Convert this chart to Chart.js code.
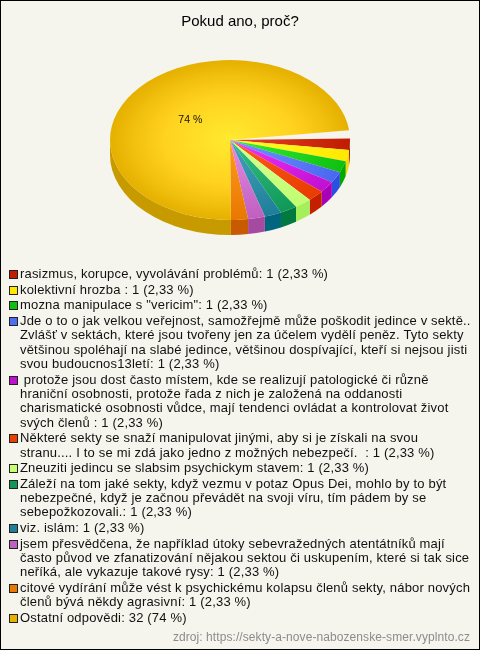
<!DOCTYPE html>
<html lang="cs">
<head>
<meta charset="utf-8">
<title>Pokud ano, proč?</title>
<script src="https://cdn.jsdelivr.net/npm/chart.js@4/dist/chart.umd.min.js"></script>
<style>
  html, body { margin: 0; padding: 0; background: #f5f5ee; }
  #frame {
    position: relative; width: 480px; height: 650px; box-sizing: border-box;
    border: 1px solid #000; background: #f5f5ee; overflow: hidden;
    font-family: "Liberation Sans", Arial, sans-serif; color: #111;
  }
  #pie { position: absolute; left: -1px; top: -1px; }
  #legend { position: absolute; left: 8px; top: 266px; margin: 0; padding: 0; list-style: none; font-size: 13px; letter-spacing: 0.18px; line-height: 14.3px; }
  #legend li { position: relative; padding-left: 11px; margin-bottom: 1.4px; white-space: pre; }
  #legend .box { position: absolute; left: 0; top: 3px; width: 7px; height: 7px; border: 1px solid #222; }
  #source { position: absolute; right: 9px; top: 629px; font-size: 12px; letter-spacing: 0.08px; color: #8c8c8c; }
</style>
</head>
<body>
<div id="frame">
  <canvas id="pie" width="480" height="300"></canvas>
  <ul id="legend"></ul>
  <div id="source">zdroj: https://sekty-a-nove-nabozenske-smer.vyplnto.cz</div>
</div>
<script>
const chartTitle = "Pokud ano, proč?";

const answers = [
  "rasizmus, korupce, vyvolávání problémů",
  "kolektivní hrozba ",
  "mozna manipulace s \"vericim\"",
  "Jde o to o jak velkou veřejnost, samožřejmě může poškodit jedince v sektě..\nZvlášť v sektách, které jsou tvořeny jen za účelem vydělí peněz. Tyto sekty\nvětšinou spoléhají na slabé jedince, většinou dospívající, kteří si nejsou jisti\nsvou budoucnos13letí",
  " protože jsou dost často místem, kde se realizují patologické či různě\nhraniční osobnosti, protože řada z nich je založená na oddanosti\ncharismatické osobnosti vůdce, mají tendenci ovládat a kontrolovat život\nsvých členů ",
  "Některé sekty se snaží manipulovat jinými, aby si je získali na svou\nstranu.... I to se mi zdá jako jedno z možných nebezpečí.  ",
  "Zneuziti jedincu se slabsim psychickym stavem",
  "Záleží na tom jaké sekty, když vezmu v potaz Opus Dei, mohlo by to být\nnebezpečné, když je začnou převádět na svoji víru, tím pádem by se\nsebepožkozovali.",
  "viz. islám",
  "jsem přesvědčena, že například útoky sebevražedných atentátníků mají\nčasto původ ve zfanatizování nějakou sektou či uskupením, které si tak sice\nneříká, ale vykazuje takové rysy",
  "citové vydírání může vést k psychickému kolapsu členů sekty, nábor nových\nčlenů bývá někdy agrasivní",
  "Ostatní odpovědi"
];
const counts = [1, 1, 1, 1, 1, 1, 1, 1, 1, 1, 1, 32];
const percents = ["2,33 %", "2,33 %", "2,33 %", "2,33 %", "2,33 %", "2,33 %", "2,33 %", "2,33 %", "2,33 %", "2,33 %", "2,33 %", "74 %"];
const pieLabels = ["", "", "", "", "", "", "", "", "", "", "", "74 %"];

// top face: inner colour, outer colour
const innerColors = ["#e84428", "#ffff28", "#34f034", "#7094ff", "#f034ff", "#ff5c1c", "#d8ff94", "#34c084", "#44a4bc", "#e48ce4", "#ff9c20", "#ffea30"];
const outerColors = ["#c01c00", "#ffe800", "#10c010", "#4a68f0", "#c010d0", "#e83c00", "#c0ff70", "#109858", "#1f7f98", "#c060c0", "#e87800", "#e5b000"];
const wallColors = ["#a01000", "#f0d800", "#00a800", "#2a50e0", "#a800b8", "#c42000", "#a5f05a", "#007a40", "#006680", "#a54aa0", "#c85a00", "#c79a00"];
const boxColors = ["#c41e00", "#ffe800", "#10c010", "#4a70f0", "#c010d0", "#e84000", "#c8ff70", "#109858", "#1f7f98", "#c060c0", "#e87800", "#e8b000"];

// the library draws a circle, this squashes it to the tilted ellipse
const squash = 2 / 3;
const pieCenterX = 230;
const pieCenterY = 140;
const depth = 15;

function toEllipse(chart) {
  const { ctx, chartArea: a } = chart;
  ctx.translate(pieCenterX, pieCenterY);
  ctx.scale(1, squash);
  ctx.translate(-(a.left + a.right) / 2, -(a.top + a.bottom) / 2);
}

const tiltPlugin = {
  id: "tilt",
  beforeDatasetsDraw(chart) {
    const ctx = chart.ctx;
    chart.getDatasetMeta(0).data.forEach((arc, i) => {
      const r = arc.outerRadius, ry = r * squash;
      const from = Math.max(arc.startAngle, 0);
      const to = Math.min(arc.endAngle, Math.PI);
      if (to <= from) return;
      ctx.beginPath();
      ctx.ellipse(pieCenterX, pieCenterY, r, ry, 0, from, to);
      ctx.ellipse(pieCenterX, pieCenterY + depth, r, ry, 0, to, from, true);
      ctx.closePath();
      ctx.fillStyle = wallColors[i];
      ctx.fill();
    });
    ctx.save();
    toEllipse(chart);
  },
  afterDatasetsDraw(chart) {
    const ctx = chart.ctx;
    ctx.restore();
    ctx.font = "10.5px 'Liberation Sans', Arial, sans-serif";
    ctx.fillStyle = "#111";
    ctx.textAlign = "center";
    ctx.textBaseline = "middle";
    chart.getDatasetMeta(0).data.forEach((arc, i) => {
      if (!pieLabels[i]) return;
      const mid = (arc.startAngle + arc.endAngle) / 2;
      const d = arc.outerRadius * 0.44;
      ctx.fillText(pieLabels[i], pieCenterX + Math.cos(mid) * d, pieCenterY + 3 + Math.sin(mid) * d * squash);
    });
  }
};

function sliceFill(context) {
  const { chart, dataIndex: i } = context;
  const a = chart.chartArea;
  if (!a) return outerColors[i];
  const cx = (a.left + a.right) / 2, cy = (a.top + a.bottom) / 2, r = (a.right - a.left) / 2;
  const g = chart.ctx.createRadialGradient(cx, cy, 0, cx, cy, r);
  g.addColorStop(0, innerColors[i]);
  if (i === counts.length - 1) {
    g.addColorStop(0.55, "#ffd21e");
    g.addColorStop(0.8, "#f2c00e");
  }
  g.addColorStop(1, outerColors[i]);
  return g;
}

new Chart(document.getElementById("pie"), {
  type: "pie",
  data: {
    labels: answers,
    datasets: [{ data: counts, backgroundColor: sliceFill, borderWidth: 0, hoverOffset: 0 }]
  },
  options: {
    responsive: false,
    devicePixelRatio: 1,
    animation: false,
    rotation: 89,
    circumference: 354,
    layout: { padding: { left: 120, right: 120, top: 0, bottom: 0 } },
    plugins: {
      legend: { display: false },
      tooltip: { enabled: false },
      title: {
        display: true,
        text: chartTitle,
        color: "#000",
        font: { family: "'Liberation Sans', Arial, sans-serif", size: 15, weight: "normal" },
        padding: { top: 13, bottom: 2 }
      }
    }
  },
  plugins: [tiltPlugin]
});

document.getElementById("legend").innerHTML = answers.map((a, i) =>
  `<li><span class="box" style="background:${boxColors[i]}"></span>${a}: ${counts[i]} (${percents[i]})</li>`
).join("");
</script>
</body>
</html>
